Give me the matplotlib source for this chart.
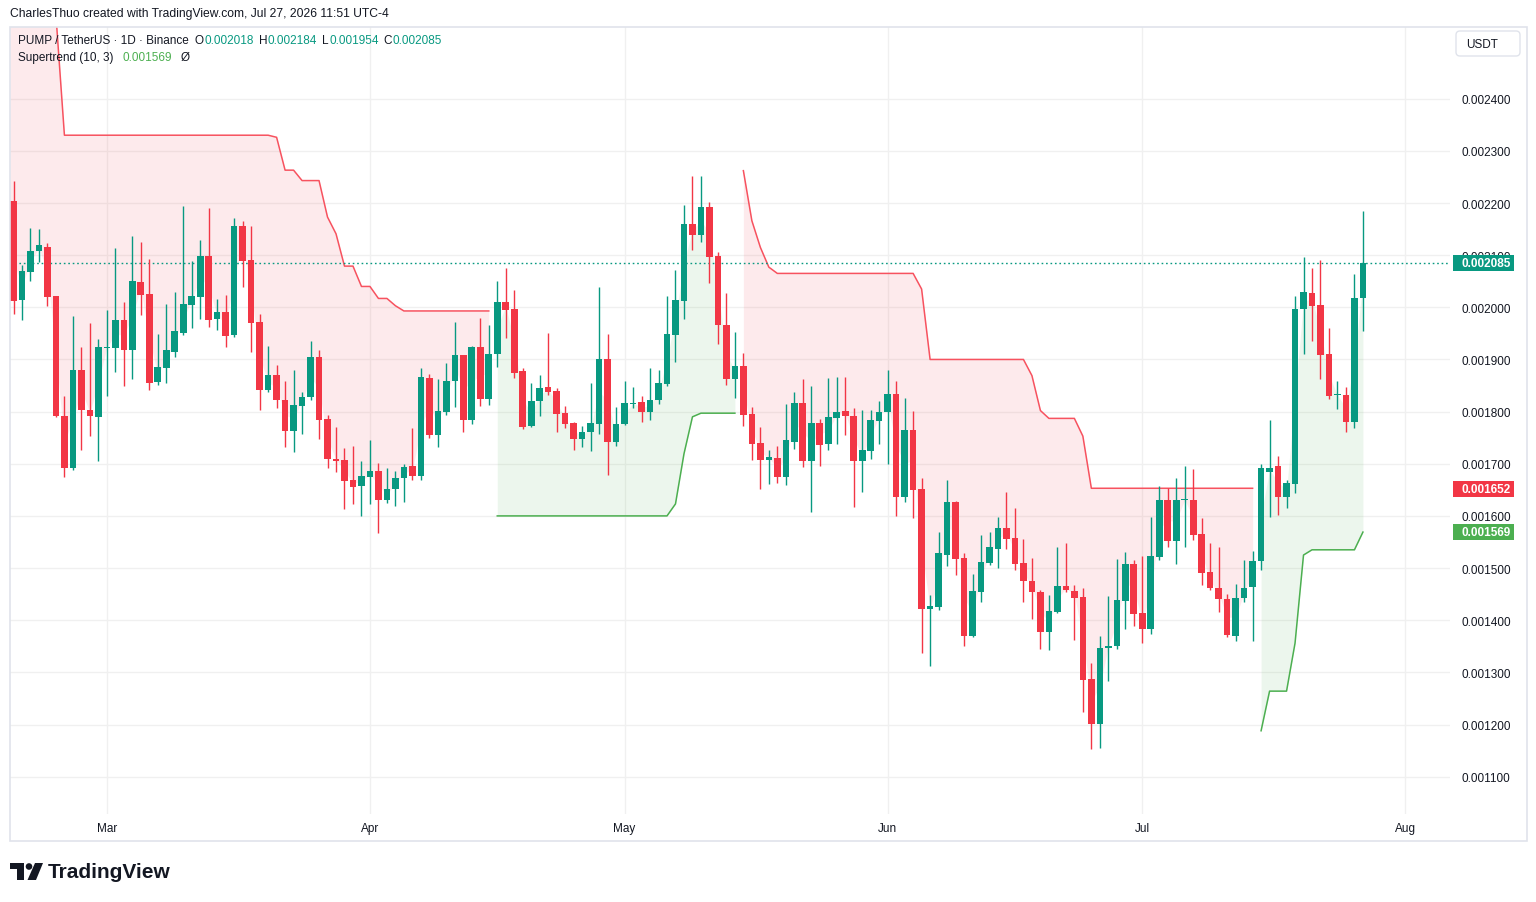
import numpy as np
import pandas as pd
import matplotlib
matplotlib.use("Agg")
import matplotlib.pyplot as plt
from matplotlib.patches import Rectangle, FancyBboxPatch, Circle, Polygon
import matplotlib.transforms as mtransforms

plt.rcParams['font.family'] = ['Liberation Sans', 'DejaVu Sans']

# ---------------- data (prices in units of 1e-6 USDT) ----------------
START_DATE = "2026-02-18"

OPEN = [2203, 2014, 2068, 2108, 2116, 2021, 1791, 1692, 1879, 1804,
        1790, 1922, 1922, 1975, 1918, 2048, 2025, 1857, 1884, 1914,
        1951, 2004, 2020, 2098, 1978, 1991, 1947, 2156, 2090, 1971,
        1842, 1870, 1823, 1763, 1811, 1828, 1904, 1785, 1710, 1707,
        1668, 1658, 1675, 1686, 1631, 1652, 1672, 1696, 1677, 1864,
        1755, 1800, 1859, 1908, 1784, 1923, 1825, 1911, 2010, 1996,
        1877, 1773, 1820, 1847, 1839, 1797, 1778, 1748, 1760, 1777,
        1900, 1741, 1777, 1815, 1818, 1799, 1823, 1853, 1947, 2012,
        2159, 2139, 2192, 2098, 1967, 1863, 1887, 1795, 1739, 1708,
        1712, 1674, 1742, 1816, 1705, 1778, 1737, 1788, 1801, 1791,
        1705, 1725, 1782, 1799, 1833, 1636, 1764, 1651, 1421, 1425,
        1526, 1626, 1519, 1370, 1455, 1510, 1537, 1577, 1557, 1509,
        1476, 1455, 1377, 1416, 1466, 1456, 1444, 1287, 1201, 1347,
        1351, 1437, 1508, 1414, 1383, 1521, 1630, 1551, 1630, 1630,
        1565, 1492, 1461, 1440, 1369, 1442, 1463, 1513, 1685, 1695,
        1636, 1662, 1997, 2027, 2004, 1910, 1831, 1832, 1780, 2018]

HIGH = [2242, 2081, 2152, 2150, 2123, 2022, 1829, 1983, 1923, 1969,
        1939, 1994, 2113, 2010, 2136, 2125, 2092, 1948, 2006, 2029,
        2194, 2088, 2130, 2190, 2015, 2023, 2171, 2165, 2155, 1987,
        1925, 1889, 1858, 1879, 1837, 1935, 1918, 1793, 1770, 1730,
        1735, 1705, 1745, 1701, 1691, 1687, 1699, 1768, 1883, 1872,
        1862, 1893, 1971, 1909, 1925, 1980, 1966, 2050, 2075, 2033,
        1883, 1854, 1871, 1950, 1845, 1810, 1781, 1772, 1854, 2038,
        1948, 1808, 1858, 1847, 1829, 1883, 1879, 2021, 2071, 2196,
        2252, 2252, 2201, 2107, 2027, 1952, 1912, 1808, 1771, 1726,
        1734, 1814, 1837, 1862, 1849, 1785, 1864, 1866, 1866, 1806,
        1804, 1803, 1820, 1879, 1858, 1826, 1801, 1672, 1448, 1570,
        1668, 1628, 1528, 1488, 1563, 1569, 1597, 1645, 1615, 1555,
        1519, 1457, 1448, 1540, 1549, 1467, 1461, 1318, 1370, 1446,
        1517, 1530, 1515, 1523, 1598, 1657, 1653, 1672, 1695, 1689,
        1596, 1548, 1540, 1450, 1470, 1515, 1532, 1700, 1783, 1714,
        1668, 2022, 2097, 2075, 2090, 1961, 1858, 1847, 2064, 2184]

LOW = [1987, 1975, 2050, 2087, 2002, 1789, 1675, 1688, 1726, 1753,
       1705, 1830, 1876, 1850, 1863, 1985, 1842, 1851, 1855, 1905,
       1947, 1960, 1978, 1963, 1956, 1924, 1943, 2039, 1914, 1803,
       1838, 1806, 1733, 1723, 1757, 1822, 1748, 1692, 1684, 1613,
       1622, 1600, 1623, 1568, 1624, 1619, 1626, 1669, 1669, 1750,
       1733, 1794, 1809, 1760, 1776, 1811, 1813, 1886, 1942, 1865,
       1767, 1771, 1792, 1832, 1761, 1769, 1727, 1732, 1724, 1758,
       1678, 1734, 1775, 1806, 1780, 1784, 1815, 1849, 1895, 1978,
       2110, 2126, 2047, 1930, 1851, 1827, 1773, 1707, 1652, 1661,
       1663, 1660, 1729, 1694, 1608, 1696, 1727, 1737, 1755, 1617,
       1646, 1710, 1737, 1700, 1600, 1627, 1596, 1338, 1313, 1420,
       1504, 1487, 1351, 1368, 1435, 1506, 1500, 1537, 1497, 1435,
       1402, 1345, 1342, 1414, 1454, 1362, 1224, 1153, 1155, 1284,
       1345, 1384, 1389, 1356, 1374, 1515, 1541, 1508, 1541, 1553,
       1467, 1458, 1415, 1368, 1361, 1434, 1361, 1496, 1597, 1602,
       1616, 1643, 1910, 1935, 1863, 1825, 1805, 1760, 1768, 1954]

CLOSE = [2012, 2069, 2108, 2119, 2020, 1792, 1692, 1879, 1803, 1792,
         1923, 1924, 1975, 1918, 2050, 2024, 1855, 1885, 1918, 1954,
         2006, 2021, 2098, 1976, 1991, 1945, 2156, 2089, 1970, 1841,
         1870, 1822, 1763, 1812, 1828, 1904, 1784, 1709, 1706, 1667,
         1656, 1676, 1686, 1631, 1651, 1673, 1694, 1677, 1866, 1755,
         1801, 1858, 1908, 1784, 1923, 1825, 1910, 2010, 1995, 1874,
         1771, 1820, 1845, 1838, 1796, 1777, 1748, 1760, 1778, 1900,
         1742, 1777, 1816, 1817, 1799, 1823, 1854, 1949, 2014, 2159,
         2139, 2192, 2096, 1966, 1862, 1887, 1794, 1738, 1708, 1713,
         1674, 1745, 1816, 1705, 1778, 1736, 1789, 1799, 1792, 1705,
         1726, 1783, 1799, 1833, 1636, 1764, 1650, 1421, 1427, 1528,
         1626, 1518, 1370, 1456, 1511, 1540, 1576, 1556, 1508, 1475,
         1454, 1377, 1417, 1466, 1457, 1443, 1286, 1201, 1347, 1351,
         1438, 1508, 1412, 1383, 1523, 1630, 1551, 1630, 1632, 1564,
         1490, 1462, 1440, 1371, 1443, 1462, 1514, 1691, 1691, 1636,
         1663, 1997, 2029, 2003, 1909, 1829, 1833, 1780, 2018, 2085]

SUPERTREND = [2620, 2610, 2600, 2590, 2580, 2560, 2330, 2330, 2330, 2330,
              2330, 2330, 2330, 2330, 2330, 2330, 2330, 2330, 2330, 2330,
              2330, 2330, 2330, 2330, 2330, 2330, 2330, 2330, 2330, 2330,
              2330, 2326, 2263, 2263, 2243, 2243, 2243, 2173, 2141, 2079,
              2079, 2040, 2040, 2017, 2017, 2003, 1993, 1993, 1993, 1993,
              1993, 1993, 1993, 1993, 1993, 1993, 1993, 1600, 1600, 1600,
              1600, 1600, 1600, 1600, 1600, 1600, 1600, 1600, 1600, 1600,
              1600, 1600, 1600, 1600, 1600, 1600, 1600, 1600, 1623, 1719,
              1790, 1797, 1797, 1797, 1797, 1797, 2262, 2166, 2115, 2077,
              2065, 2065, 2065, 2065, 2065, 2065, 2065, 2065, 2065, 2065,
              2065, 2065, 2065, 2065, 2065, 2065, 2065, 2035, 1900, 1900,
              1900, 1900, 1900, 1900, 1900, 1900, 1900, 1900, 1900, 1900,
              1869, 1802, 1787, 1787, 1787, 1787, 1753, 1653, 1653, 1653,
              1653, 1653, 1653, 1653, 1653, 1653, 1653, 1653, 1653, 1653,
              1653, 1653, 1653, 1653, 1653, 1653, 1653, 1188, 1264, 1264,
              1264, 1356, 1525, 1535, 1535, 1535, 1535, 1535, 1535, 1569]

# (first index, last index, direction)  -1 = downtrend (red), 1 = uptrend (green)
TREND_SEGMENTS = [(0, 56, -1), (57, 85, 1), (86, 146, -1), (147, 159, 1)]

LAST_CLOSE = 2085
ST_DOWN_LAST = 1652
ST_UP_LAST = 1569
PRICE_TICKS = [1100, 1200, 1300, 1400, 1500, 1600, 1700, 1800, 1900,
               2000, 2100, 2200, 2300, 2400]
MONTH_LABELS = ["Mar", "Apr", "May", "Jun", "Jul", "Aug"]

HEADER = "CharlesThuo created with TradingView.com, Jul 27, 2026 11:51 UTC-4"
SYMBOL = "PUMP / TetherUS \u00b7 1D \u00b7 Binance"
OHLC_LAST = [("O", "0.002018"), ("H", "0.002184"), ("L", "0.001954"), ("C", "0.002085")]
ST_NAME = "Supertrend (10, 3)"
ST_VALUE = "0.001569"

# ---------------- styling ----------------
UP = "#089981"
DOWN = "#F23645"
ST_UP_C = "#4CAF50"
ST_DN_C = "#F7525F"
TXT = "#131722"
GRID = "#F0F0F0"
U = 1e-6

o = np.array(OPEN) * U
h = np.array(HIGH) * U
l = np.array(LOW) * U
c = np.array(CLOSE) * U
st = np.array(SUPERTREND) * U
h = np.maximum(h, np.maximum(o, c))
l = np.minimum(l, np.minimum(o, c))

dates = pd.date_range(START_DATE, periods=len(OPEN), freq="D")
x = np.asarray((dates - dates[0]).days, dtype=float)
month_starts = pd.date_range("2026-03-01", periods=len(MONTH_LABELS), freq="MS")
mx = np.asarray((month_starts - dates[0]).days, dtype=float)

W, H = 1536, 903
fig = plt.figure(figsize=(W / 100, H / 100), dpi=100)
fig.patch.set_facecolor("white")


def fx(px):
    return px / W


def fy(py):
    return 1 - py / H


L_, R_, T_, B_ = 10, 1450, 28, 815
ax = fig.add_axes([fx(L_), fy(B_), (R_ - L_) / W, (B_ - T_) / H])
ax.set_facecolor("white")
PX_PER_DAY = 8.487
x_left = -3.5 / PX_PER_DAY
ax.set_xlim(x_left, (R_ - L_ - 3.5) / PX_PER_DAY)
ax.set_ylim(1028.4 * U, 2537.5 * U)

for s in ax.spines.values():
    s.set_visible(False)
ax.set_axisbelow(True)
ax.grid(True, color=GRID, lw=1)

ax.set_yticks(np.array(PRICE_TICKS) * U)
ax.set_yticklabels([f"{v * U:.6f}" for v in PRICE_TICKS])
ax.yaxis.tick_right()
ax.tick_params(axis="y", length=0, pad=8, labelsize=8.5, labelcolor=TXT)
ax.set_xticks(mx)
ax.set_xticklabels(MONTH_LABELS)
ax.tick_params(axis="x", length=0, pad=6, labelsize=8.5, labelcolor=TXT)

# supertrend fills and lines
mid = (o + c) / 2
for a, b, d in TREND_SEGMENTS:
    sl = slice(a, b + 1)
    col = ST_UP_C if d > 0 else DOWN
    xs = x[sl]
    if a == 0:
        # the band continues from earlier (off-screen) bars up to the pane edge
        xs = xs.copy()
        xs[0] = x_left
    ax.fill_between(xs, st[sl], mid[sl], color=col, alpha=0.1, lw=0, zorder=1)
    ax.plot(x[sl], st[sl], color=ST_UP_C if d > 0 else ST_DN_C, lw=1.1, zorder=2)

# last price dotted line
ax.axhline(LAST_CLOSE * U, color=UP, lw=1, ls=(0, (1.2, 2.0)), zorder=2)

# candles
up = c >= o
colors = np.where(up, UP, DOWN)
ax.vlines(x, l, h, colors=colors, lw=1.0, zorder=3)
body_bot = np.minimum(o, c)
body_h = np.maximum(np.abs(c - o), 2.2 * U)
ax.bar(x, body_h, bottom=body_bot, width=0.78, color=colors, lw=0, zorder=4)

# price tags on the axis
trans = mtransforms.blended_transform_factory(ax.transAxes, ax.transData)
for val, col in [(LAST_CLOSE, UP), (ST_DOWN_LAST, DOWN), (ST_UP_LAST, ST_UP_C)]:
    ax.add_patch(Rectangle((1443 / 1440, (val - 15.5) * U), 61 / 1440, 31 * U,
                           transform=trans, clip_on=False, facecolor=col,
                           edgecolor="none", zorder=6))
    ax.text(1451 / 1440, val * U, f"{val * U:.6f}", transform=trans, clip_on=False,
            color="white", fontsize=8.5, fontweight="bold", ha="left",
            va="center", zorder=7)

# ---------------- decorations ----------------
ident = mtransforms.IdentityTransform()
fig.add_artist(Rectangle((10, H - 842), 1517, 814, transform=ident, fill=False,
                         edgecolor="#E0E3EB", lw=1.2))
fig.add_artist(FancyBboxPatch((1456, H - 57), 64, 25,
                              boxstyle="round,pad=0,rounding_size=4",
                              transform=ident, facecolor="white",
                              edgecolor="#E0E3EB", lw=1))
fig.text(fx(1466), fy(45), "USDT", fontsize=8.5, color=TXT, va="center", ha="left")

fig.text(fx(10), fy(14), HEADER, fontsize=8.7, color=TXT, va="center", ha="left")

renderer = fig.canvas.get_renderer()


def chain(x_px, y_px, parts, size):
    xp = x_px
    for text, col, gap in parts:
        t = fig.text(fx(xp), fy(y_px), text, color=col, fontsize=size,
                     va="center", ha="left")
        bb = t.get_window_extent(renderer)
        xp = xp + bb.width + gap


parts = [(SYMBOL, TXT, 6)]
for k, v in OHLC_LAST:
    parts.append((k, TXT, 0.5))
    parts.append((v, UP, 5))
chain(18, 41, parts, 8.5)
chain(18, 58, [(ST_NAME, TXT, 9), (ST_VALUE, ST_UP_C, 9), ("\u00d8", TXT, 0)], 8.5)

# TradingView logo
LOGO = "#131722"
fig.add_artist(Polygon([(10, H - 864), (24, H - 864), (24, H - 881), (17, H - 881),
                        (17, H - 870), (10, H - 870)], closed=True,
                       transform=ident, facecolor=LOGO, edgecolor="none"))
fig.add_artist(Circle((29, H - 867.5), 3.3, transform=ident, facecolor=LOGO,
                      edgecolor="none"))
fig.add_artist(Polygon([(35, H - 864), (43, H - 864), (36, H - 881), (27.5, H - 881)],
                       closed=True, transform=ident, facecolor=LOGO, edgecolor="none"))
fig.text(fx(48), fy(873), "TradingView", fontsize=15, fontweight="bold",
         color=LOGO, va="center", ha="left")

fig.savefig("out.png", dpi=100, facecolor="white")
